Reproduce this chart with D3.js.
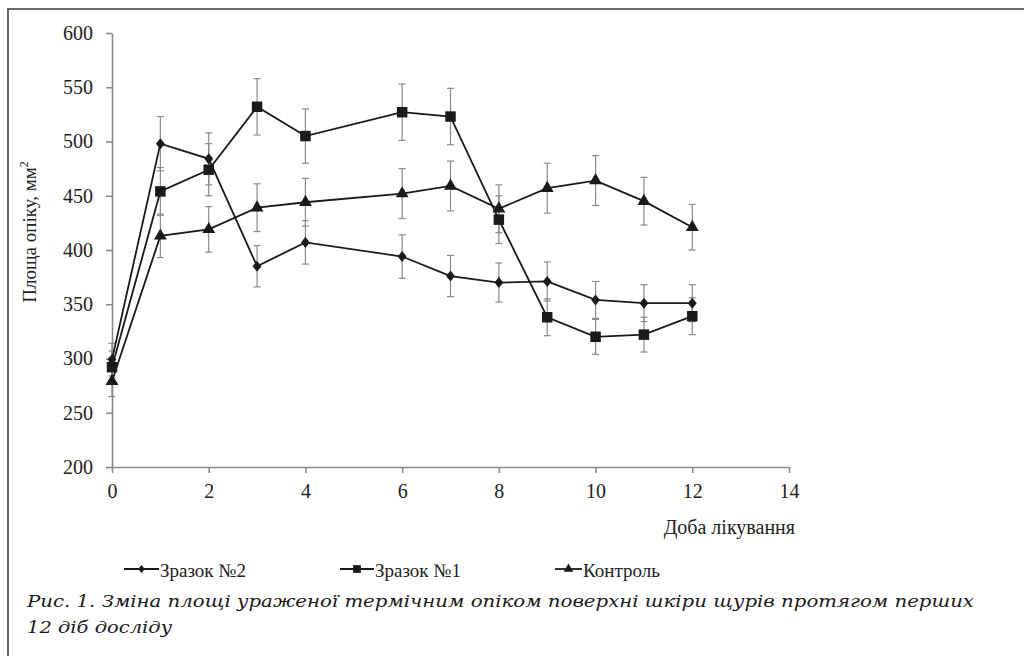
<!DOCTYPE html>
<html><head><meta charset="utf-8">
<script src="https://cdn.jsdelivr.net/npm/d3@7"></script>
<style>
body{margin:0;background:#fff;}
svg{display:block;}
</style></head>
<body>
<svg id="c" width="1024" height="656"></svg>
<script>
const days = [0,1,2,3,4,6,7,8,9,10,11,12];
const sample2 = [299,498,484,385,407,394,376,370,371,354,351,351];
const sample2Err = [15,25,24,19,20,20,19,18,18,17,17,17];
const sample1 = [292,454,474,532,505,527,523,428,338,320,322,339];
const sample1Err = [15,22,24,26,25,26,26,22,17,16,16,17];
const control = [279,413,419,439,444,452,459,438,457,464,445,421];
const controlErr = [14,20,21,22,22,23,23,22,23,23,22,21];
const yTicks = [200,250,300,350,400,450,500,550,600];
const xTicks = [0,2,4,6,8,10,12,14];
const seriesNames = ["Зразок №2","Зразок №1","Контроль"];

const svg = d3.select("#c");
svg.append("path").attr("d","M8,656 L8,9 L1024,9").attr("fill","none").attr("stroke","#6a6a6a").attr("stroke-width",2);

const x = d3.scaleLinear().domain([0,14]).range([112,789]);
const y = d3.scaleLinear().domain([200,600]).range([467,33]);
const serif = '"Liberation Serif", "Times New Roman", serif';

const ya = svg.append("g").attr("transform","translate(112,0)")
  .call(d3.axisLeft(y).tickValues(yTicks).tickSize(6).tickSizeOuter(0).tickPadding(13));
const xa = svg.append("g").attr("transform","translate(0,467)")
  .call(d3.axisBottom(x).tickValues(xTicks).tickSize(6).tickSizeOuter(0).tickPadding(11));
[ya,xa].forEach(g=>{
  g.selectAll("path,line").attr("stroke","#8a8a8a").attr("stroke-width",1.6);
  g.selectAll("text").style("font-family",serif).style("font-size","20px").attr("fill","#222");
});

svg.append("text").attr("x",795).attr("y",534).attr("text-anchor","end")
  .style("font-family",serif).style("font-size","20px").attr("fill","#222").text("Доба лікування");

const yl = svg.append("text").attr("transform","translate(36,232) rotate(-90)").attr("text-anchor","middle")
  .style("font-family",serif).style("font-size","19px").attr("fill","#222");
yl.append("tspan").text("Площа  опіку, мм");
yl.append("tspan").style("font-size","12px").attr("dy",-8).text("2");

const diamond = {draw(ctx,size){const h=Math.sqrt(size)*0.6, w=h*0.8;ctx.moveTo(0,-h);ctx.lineTo(w,0);ctx.lineTo(0,h);ctx.lineTo(-w,0);ctx.closePath();}};
const series = [
  {vals:sample2, err:sample2Err, sym:diamond, size:85},
  {vals:sample1, err:sample1Err, sym:d3.symbolSquare, size:110},
  {vals:control, err:controlErr, sym:d3.symbolTriangle, size:72}
];

series.forEach(s=>{
  const g = svg.append("g").attr("stroke","#8a8a8a").attr("stroke-width",1.2);
  days.forEach((d,i)=>{
    const cx = x(d), t = y(s.vals[i]+s.err[i]), b = y(s.vals[i]-s.err[i]);
    g.append("line").attr("x1",cx).attr("x2",cx).attr("y1",t).attr("y2",b);
    g.append("line").attr("x1",cx-3.5).attr("x2",cx+3.5).attr("y1",t).attr("y2",t);
    g.append("line").attr("x1",cx-3.5).attr("x2",cx+3.5).attr("y1",b).attr("y2",b);
  });
});

const line = d3.line().x((d,i)=>x(days[i])).y(d=>y(d));
series.forEach(s=>{
  svg.append("path").datum(s.vals).attr("d",line).attr("fill","none").attr("stroke","#1a1a1a").attr("stroke-width",1.8);
});
series.forEach(s=>{
  svg.append("g").selectAll("path").data(s.vals).join("path")
    .attr("transform",(d,i)=>`translate(${x(days[i])},${y(d)})`)
    .attr("d",d3.symbol().type(s.sym).size(s.size)).attr("fill","#1a1a1a");
});

const lx = [124,340,555];
const lw = [35,34,27];
series.forEach((s,i)=>{
  const g = svg.append("g").attr("transform",`translate(${lx[i]},569)`);
  g.append("line").attr("x1",0).attr("x2",lw[i]).attr("stroke","#1a1a1a").attr("stroke-width",1.8);
  g.append("path").attr("transform",`translate(${lw[i]/2},0)`).attr("d",d3.symbol().type(s.sym).size(s.size*0.55)).attr("fill","#1a1a1a");
  g.append("text").attr("x",lw[i]+1).attr("y",8).style("font-family",serif).style("font-size","19px").attr("fill","#222")
    .text(seriesNames[i]);
});

const cap = '"DejaVu Serif", serif';
svg.append("text").attr("x",27).attr("y",607).style("font-family",cap).style("font-style","italic")
  .style("font-size","16px").attr("fill","#1a1a1a").attr("textLength",947).attr("lengthAdjust","spacingAndGlyphs")
  .text("Рис. 1. Зміна площі ураженої термічним опіком поверхні шкіри щурів протягом перших");
svg.append("text").attr("x",27).attr("y",633).style("font-family",cap).style("font-style","italic")
  .style("font-size","16px").attr("fill","#1a1a1a").attr("textLength",145).attr("lengthAdjust","spacingAndGlyphs")
  .text("12 діб досліду");
</script>
</body></html>
